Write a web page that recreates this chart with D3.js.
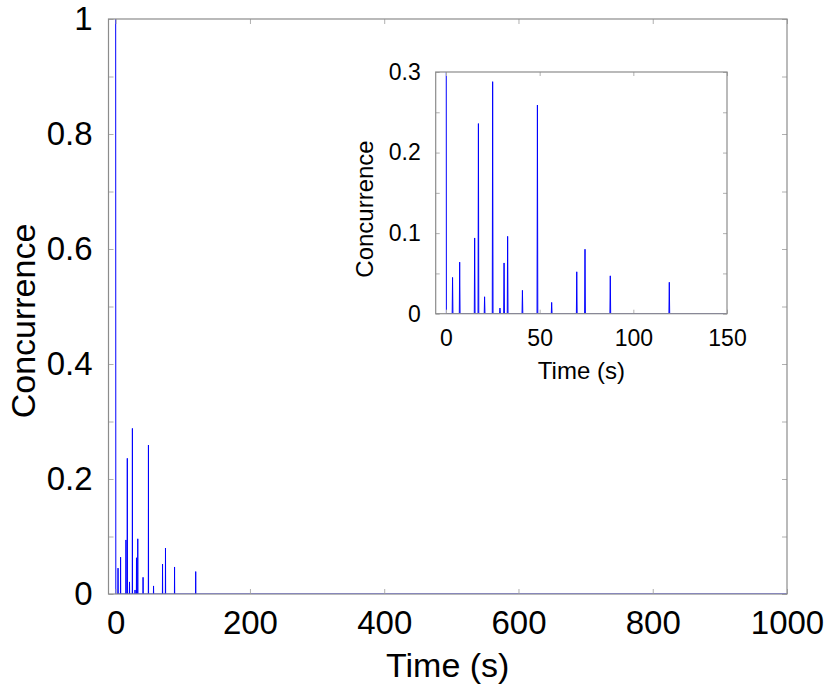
<!DOCTYPE html>
<html>
<head>
<meta charset="utf-8">
<script src="https://cdn.jsdelivr.net/npm/d3@7"></script>
<style>
  body { margin: 0; background: #fff; }
  svg { display: block; font-family: "Liberation Sans", Arial, sans-serif; }
  .tick text { fill: #000; }
</style>
</head>
<body>
<script>
(function() {

    // spike times (s) and concurrence peaks
    var spikeTimes = [3.5, 7.3, 15.3, 17.3, 20.6, 24.9, 28.8, 31.0, 32.9, 40.8, 48.8, 56.4, 69.8, 74.2, 87.7, 119.2];
    var spikeValues = [0.045, 0.064, 0.094, 0.236, 0.021, 0.288, 0.007, 0.063, 0.096, 0.029, 0.259, 0.014, 0.052, 0.080, 0.047, 0.039];
    var startValue = 1;
    var endTime = 1000;

    var mainXTicks = [0, 200, 400, 600, 800, 1000];
    var mainYTicks = [0, 0.2, 0.4, 0.6, 0.8, 1];
    var mainYMinor = [0.1, 0.3, 0.5, 0.7, 0.9];
    var insetXTicks = [0, 50, 100, 150];
    var insetYTicks = [0, 0.1, 0.2, 0.3];
    var insetYMinor = [0.05, 0.15, 0.25];

    var width = 831, height = 694;
    var halfWidth = 0.2;

    // line points: start at 1, thin spike for each event, flat to the end
    var points = [[0, startValue], [halfWidth, 0]];
    for (var i = 0; i < spikeTimes.length; i++) {
        points.push([spikeTimes[i] - halfWidth, 0]);
        points.push([spikeTimes[i], spikeValues[i]]);
        points.push([spikeTimes[i] + halfWidth, 0]);
    }
    points.push([endTime, 0]);

    var svg = d3.select("body")
        .append("svg")
        .attr("width", width)
        .attr("height", height);

    function drawPanel(opts) {
        var x = d3.scaleLinear().domain(opts.xDomain).range([opts.left, opts.right]);
        var y = d3.scaleLinear().domain(opts.yDomain).range([opts.bottom, opts.top]);
        var fmt = d3.format("~g");
        var g = svg.append("g");

        g.append("rect")
            .attr("x", opts.left).attr("y", opts.top)
            .attr("width", opts.right - opts.left)
            .attr("height", opts.bottom - opts.top)
            .attr("fill", "#fff");

        var clipId = "clip" + opts.name;
        g.append("clipPath").attr("id", clipId)
            .append("rect")
            .attr("x", opts.left).attr("y", opts.top)
            .attr("width", opts.right - opts.left)
            .attr("height", opts.bottom - opts.top);

        g.append("path")
            .datum(points)
            .attr("clip-path", "url(#" + clipId + ")")
            .attr("fill", "none")
            .attr("stroke", "#0000ff")
            .attr("stroke-width", 1)
            .attr("d", d3.line().x(function(d) { return x(d[0]); }).y(function(d) { return y(d[1]); }));

        function styleAxis(sel) {
            sel.select(".domain").remove();
            sel.selectAll(".tick line").attr("stroke", "#b0b0b0").attr("stroke-width", 1);
            sel.selectAll(".tick text").attr("font-size", opts.tickFont);
        }

        var ticks = opts.yTicks.concat(opts.yMinor);
        g.append("g").attr("transform", "translate(" + opts.left + ",0)")
            .call(d3.axisLeft(y).tickValues(opts.yTicks).tickSize(-opts.tickLen).tickPadding(opts.yPad).tickFormat(fmt))
            .call(styleAxis);
        g.append("g").attr("transform", "translate(" + opts.left + ",0)")
            .call(d3.axisLeft(y).tickValues(opts.yMinor).tickSize(-opts.tickLen).tickFormat(""))
            .call(styleAxis);
        g.append("g").attr("transform", "translate(" + opts.right + ",0)")
            .call(d3.axisRight(y).tickValues(ticks).tickSize(-opts.tickLen).tickFormat(""))
            .call(styleAxis);
        g.append("g").attr("transform", "translate(0," + opts.bottom + ")")
            .call(d3.axisBottom(x).tickValues(opts.xTicks).tickSize(-opts.tickLen).tickPadding(opts.xPad).tickFormat(fmt))
            .call(styleAxis);
        g.append("g").attr("transform", "translate(0," + opts.top + ")")
            .call(d3.axisTop(x).tickValues(opts.xTicks).tickSize(-opts.tickLen).tickFormat(""))
            .call(styleAxis);

        g.append("rect")
            .attr("x", opts.left).attr("y", opts.top)
            .attr("width", opts.right - opts.left)
            .attr("height", opts.bottom - opts.top)
            .attr("fill", "none")
            .attr("stroke", "#8c8c8c")
            .attr("stroke-width", 1.2);

        g.append("text")
            .attr("x", (opts.left + opts.right) / 2)
            .attr("y", opts.xLabelY)
            .attr("text-anchor", "middle")
            .attr("font-size", opts.labelFont)
            .text("Time (s)");

        g.append("text")
            .attr("transform", "translate(" + opts.yLabelX + "," + opts.yLabelCy + ") rotate(-90)")
            .attr("text-anchor", "middle")
            .attr("font-size", opts.labelFont)
            .text("Concurrence");
    }

    drawPanel({
        name: "main",
        left: 108.5, right: 787, top: 19, bottom: 594,
        xDomain: [-10.7, 1000], yDomain: [0, 1],
        xTicks: mainXTicks, yTicks: mainYTicks, yMinor: mainYMinor,
        tickLen: 5, yPad: 16, xPad: 17,
        tickFont: 33, labelFont: 34,
        xLabelY: 677, yLabelX: 35, yLabelCy: 321
    });

    drawPanel({
        name: "inset",
        left: 435.7, right: 727, top: 72, bottom: 313.7,
        xDomain: [-5.5, 150], yDomain: [0, 0.3],
        xTicks: insetXTicks, yTicks: insetYTicks, yMinor: insetYMinor,
        tickLen: 4, yPad: 15, xPad: 16,
        tickFont: 23, labelFont: 24,
        xLabelY: 379, yLabelX: 373, yLabelCy: 209
    });

})();
</script>
</body>
</html>
